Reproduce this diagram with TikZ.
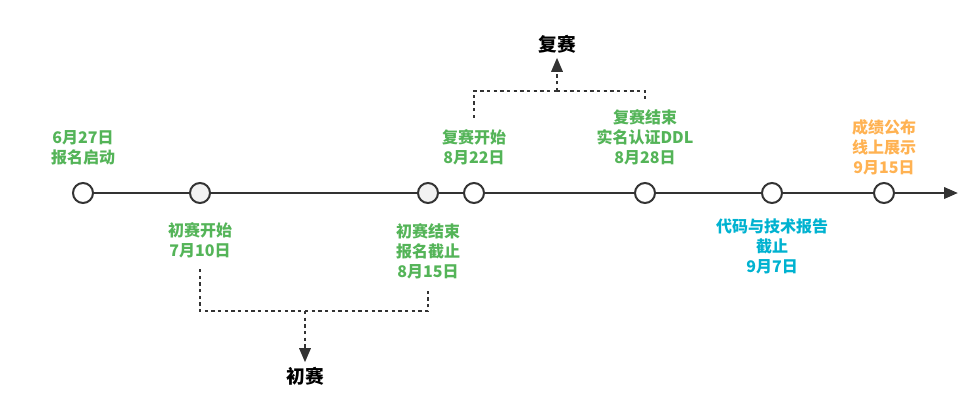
\documentclass[tikz,border=0pt]{standalone}
\usepackage{fontspec}
\setmainfont{Noto Sans CJK SC}
\usetikzlibrary{arrows.meta, calc}

\definecolor{darkline}{RGB}{51,51,51}
\definecolor{grayfill}{RGB}{242,242,242}
\definecolor{stagegreen}{RGB}{84,180,88}
\definecolor{stagecyan}{RGB}{0,178,208}
\definecolor{stageorange}{RGB}{255,178,82}

\tikzset{
  milestone/.style={circle, draw=darkline, line width=1.5pt, minimum size=15pt, inner sep=0pt},
  datelabel/.style={font=\bfseries\fontsize{12}{15}\selectfont, align=center, text=stagegreen},
  phase/.style={font=\bfseries\fontsize{14}{16}\selectfont, text=black},
  link/.style={draw=darkline, line width=1.6pt, dash pattern=on 2.4pt off 2.6pt},
  tip/.style={-{Triangle[length=10.5pt, width=8.5pt]}}
}

\begin{document}
\begin{tikzpicture}[x=0.75pt, y=-0.75pt]
  \useasboundingbox (0,0) rectangle (979,418);
  % timeline
  \coordinate (start) at (83,193);
  \coordinate (end) at (958,193);
  \draw[darkline, line width=2pt, tip] (start) -- (end);
  % milestones
  \foreach \name/\x/\col in {m1/83/white, m2/200/grayfill, m3/428/grayfill,
      m4/474/white, m5/645/white, m6/772/white, m7/884/white}
    \node[milestone, fill=\col] (\name) at (\x,193) {};
  % labels
  \node[datelabel] (l1) at (83,148) {6月27日\\报名启动};
  \node[datelabel] (l2) at (200,240) {初赛开始\\7月10日};
  \node[datelabel] (l3) at (428,251) {初赛结束\\报名截止\\8月15日};
  \node[datelabel] (l4) at (474,147) {复赛开始\\8月22日};
  \node[datelabel] (l5) at (645,137) {复赛结束\\实名认证DDL\\8月28日};
  \node[datelabel, text=stagecyan] (l6) at (772,246) {代码与技术报告\\截止\\9月7日};
  \node[datelabel, text=stageorange] (l7) at (884,147) {成绩公布\\线上展示\\9月15日};
  % phases
  \node[phase] (chu) at (305,376) {初赛};
  \node[phase] (fu) at (557,44) {复赛};
  \coordinate (low) at (305,311);
  \coordinate (high) at (557,91);
  \draw[link, shorten <=5pt] (l2.south) |- (low);
  \draw[link, shorten >=5pt] (low) -| (l3.south);
  \draw[link, tip] (low) -- (chu.north);
  \draw[link, shorten <=5pt] (l4.north) |- (high);
  \draw[link, shorten >=4pt] (high) -| (l5.north);
  \draw[link, tip] (high) -- (fu.south);
\end{tikzpicture}
\end{document}
